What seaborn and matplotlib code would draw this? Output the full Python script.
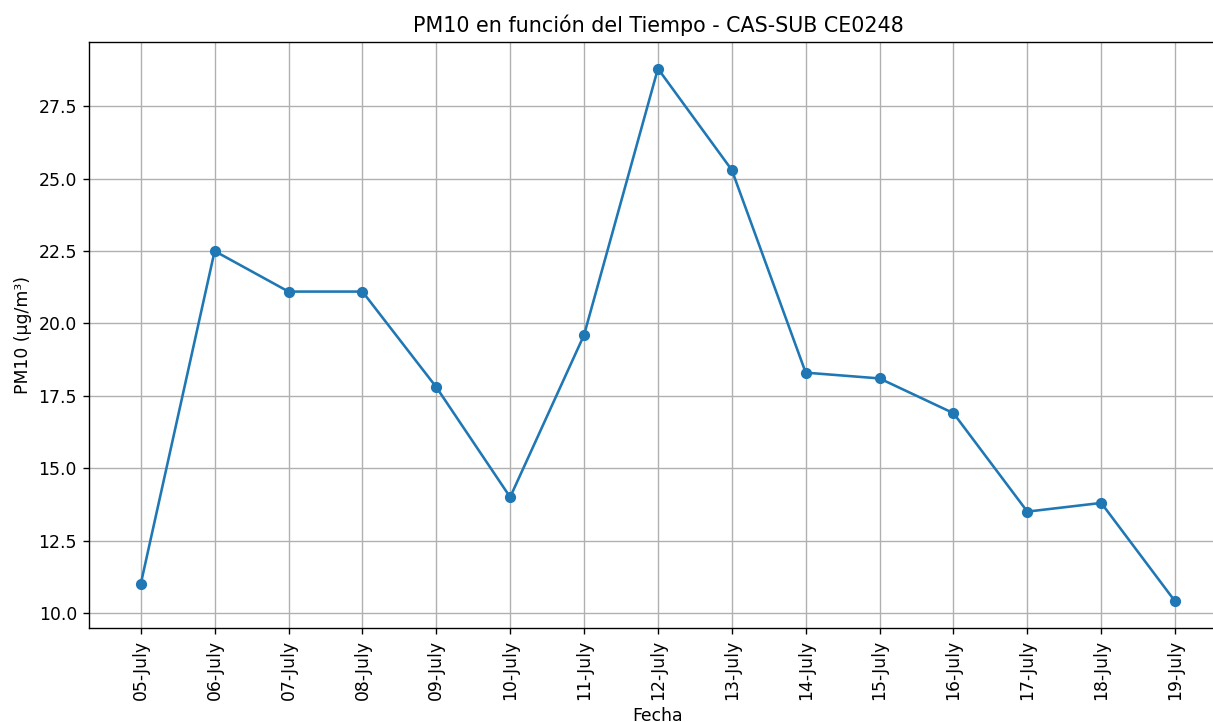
import pandas as pd
import seaborn as sns
import matplotlib.pyplot as plt

fechas = ["05-July", "06-July", "07-July", "08-July", "09-July", "10-July", "11-July",
          "12-July", "13-July", "14-July", "15-July", "16-July", "17-July", "18-July", "19-July"]
pm10 = [11.0, 22.5, 21.1, 21.1, 17.8, 14.0, 19.6, 28.8, 25.3, 18.3, 18.1, 16.9, 13.5, 13.8, 10.4]

df = pd.DataFrame({'Fecha': fechas, 'PM10': pm10})

# figure is slightly cropped on the right, like the reference
fig = plt.figure(figsize=(1213 / 124, 722 / 124), dpi=124)
ax = fig.add_axes([0.0734, 0.1302, 0.938, 0.8116])
sns.lineplot(data=df, x='Fecha', y='PM10', marker='o', markersize=6.5,
             markeredgewidth=0, linewidth=1.5, color='#1f77b4', ax=ax)
ax.set_title('PM10 en función del Tiempo - CAS-SUB CE0248')
ax.set_xlabel('Fecha')
ax.set_ylabel('PM10 (µg/m³)')
plt.xticks(rotation=90)
ax.grid(True)
ax.spines['right'].set_visible(False)
plt.savefig('out.png', dpi=124)
